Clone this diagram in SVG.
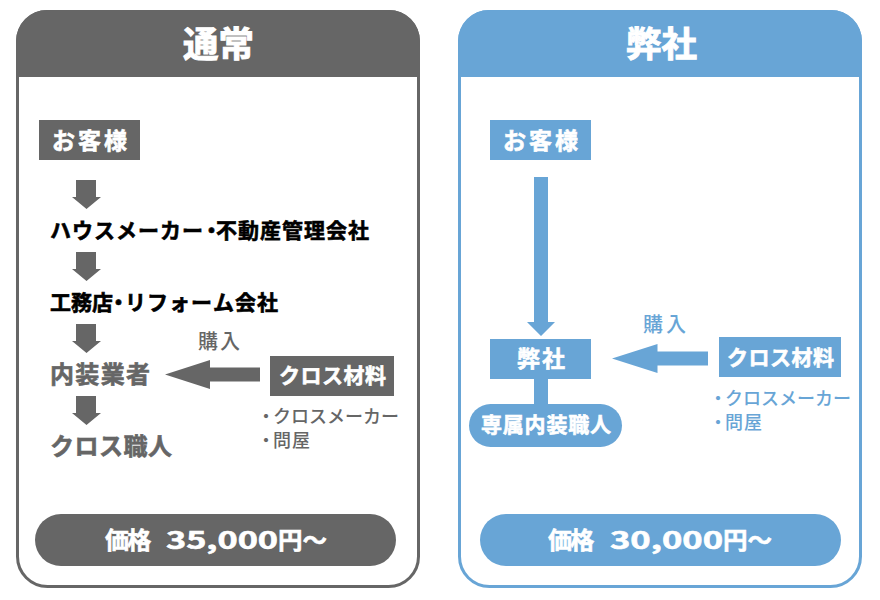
<svg xmlns="http://www.w3.org/2000/svg" width="880" height="600" viewBox="0 0 880 600">
<style>
text{font-family:"Noto Sans CJK JP","Noto Sans CJK SC",sans-serif;font-weight:700;dominant-baseline:central;stroke-width:.6}
text.w{fill:#fff;stroke:#fff}text.g{fill:#666;stroke:#666}text.b{fill:#68a5d6;stroke:#68a5d6}text.k{fill:#000;stroke:#000}
.g{fill:#666}.b{fill:#68a5d6}
.pg{fill:#fff;stroke:#666;stroke-width:3}.pb{fill:#fff;stroke:#68a5d6;stroke-width:3}
text.m{font-weight:500;stroke-width:0}
text.t{stroke-width:1}
</style>
<g id="panel-left">
<rect class="pg" x="17.500" y="11.500" width="401" height="575" rx="30"/>
<path class="g" d="M16 77V41a31 31 0 0 1 31-31H389a31 31 0 0 1 31 31V77Z"/>
<text class="w t" x="183" y="41" font-size="35" textLength="71" lengthAdjust="spacingAndGlyphs">通常</text>
</g>
<g id="panel-right">
<rect class="pb" x="459.500" y="11.500" width="401" height="575" rx="30"/>
<path class="b" d="M458 77V41a31 31 0 0 1 31-31H831a31 31 0 0 1 31 31V77Z"/>
<text class="w t" x="626" y="41" font-size="35" textLength="71" lengthAdjust="spacingAndGlyphs">弊社</text>
</g>
<g id="connectors">
<path id="a1" class="g" d="M76 180h20v17h5l-14.500 12-14.500-12h4Z"/>
<path id="a2" class="g" d="M76 252h20v17h5l-14.500 12-14.500-12h4Z"/>
<path id="a3" class="g" d="M76 324h20v17h5l-14.500 12-14.500-12h4Z"/>
<path id="a4" class="g" d="M76 396h20v17h5l-14.500 12-14.500-12h4Z"/>
<path id="a5" class="g" d="M165 374.500L210 360v7.500h50v14h-50v7.500Z"/>
<path id="b1" class="b" d="M534 177h14v145h7l-14 14-14-14h7Z"/>
<rect id="b2" class="b" x="534" y="379" width="14" height="30"/>
<path id="b3" class="b" d="M612 358.500L657.500 344v7.500h50.500v14h-50.500v7.500Z"/>
</g>
<g id="l-customer"><rect class="g" x="39" y="120" width="101" height="40"/><text class="w" x="52" y="139" font-size="23" textLength="75">お客様</text></g>
<g id="l-maker"><text class="k" x="50 72 94 116 138 160 182 201 216 238 260 282 304 326 348" y="229" font-size="21">ハウスメーカー・不動産管理会社</text></g>
<g id="l-builder"><text class="k" x="50 71 92 108 125 147 169 191 213 235 257" y="301" font-size="21">工務店・リフォーム会社</text></g>
<g id="l-interior"><text class="g" x="50" y="372" font-size="24" textLength="100">内装業者</text></g>
<g id="l-craftsman"><text class="g" x="50" y="444" font-size="24" textLength="122">クロス職人</text></g>
<g id="l-buy"><text class="g m" x="198" y="340" font-size="20" textLength="42">購入</text></g>
<g id="l-material"><rect class="g" x="270" y="356" width="124" height="40"/><text class="w" x="279" y="374" font-size="21" textLength="107">クロス材料</text></g>
<g id="l-list"><text class="g m" x="257 273 291 309 327 345 363 381" y="415" font-size="18">・クロスメーカー</text><text class="g m" x="257 273 292" y="439" font-size="18">・問屋</text></g>
<g id="l-price"><rect class="g" x="35" y="514" width="361" height="52" rx="26"/><text class="w" y="538" font-size="24"><tspan x="105" textLength="50">価格 </tspan><tspan x="166" textLength="112" lengthAdjust="spacingAndGlyphs">35,000</tspan><tspan x="278" textLength="49" lengthAdjust="spacingAndGlyphs">円〜</tspan></text></g>
<g id="r-customer"><rect class="b" x="490" y="120" width="101" height="40"/><text class="w" x="503" y="139" font-size="23" textLength="75">お客様</text></g>
<g id="r-company"><rect class="b" x="490" y="339" width="101" height="40"/><text class="w" x="517" y="357" font-size="23" textLength="48">弊社</text></g>
<g id="r-craftsman"><rect class="b" x="469" y="404" width="153" height="43" rx="21.500"/><text class="w" x="481" y="423" font-size="21" textLength="130">専属内装職人</text></g>
<g id="r-buy"><text class="b m" x="643" y="323" font-size="20" textLength="43">購入</text></g>
<g id="r-material"><rect class="b" x="719" y="337" width="122" height="40"/><text class="w" x="727" y="356" font-size="21" textLength="107">クロス材料</text></g>
<g id="r-list"><text class="b m" x="709 725 743 761 779 797 815 833" y="397" font-size="18">・クロスメーカー</text><text class="b m" x="709 725 744" y="421" font-size="18">・問屋</text></g>
<g id="r-price"><rect class="b" x="480" y="514" width="361" height="52" rx="26"/><text class="w" y="538" font-size="24"><tspan x="548" textLength="50">価格 </tspan><tspan x="610" textLength="113" lengthAdjust="spacingAndGlyphs">30,000</tspan><tspan x="723" textLength="49" lengthAdjust="spacingAndGlyphs">円〜</tspan></text></g>
</svg>
